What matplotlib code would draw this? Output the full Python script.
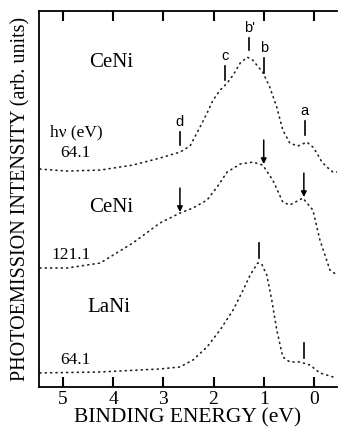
import matplotlib.pyplot as plt

plt.rcParams['font.family'] = ['Liberation Serif', 'DejaVu Serif']

# binding energy (eV) and intensity (arb. units) for each spectrum
e_ceni64 = [5.46, 4.92, 4.26, 3.61, 3.07, 2.67, 2.47, 2.27, 2.13, 2.01, 1.87, 1.73, 1.61,
            1.47, 1.33, 1.22, 1.02, 0.88, 0.74, 0.62, 0.48, 0.32, 0.14, 0.02, -0.06,
            -0.16, -0.26, -0.38, -0.46]
i_ceni64 = [218, 216, 217, 222, 229, 235, 241, 260, 274, 287, 297, 304, 312,
            324, 330, 327, 315, 300, 280, 257, 244, 241, 245, 240, 234,
            225, 220, 215, 215]

e_ceni121 = [5.46, 4.92, 4.26, 3.61, 3.07, 2.67, 2.41, 2.13, 1.93, 1.73, 1.47, 1.22, 1.02,
             0.82, 0.62, 0.48, 0.22, 0.02, -0.12, -0.32, -0.46]
i_ceni121 = [119, 119, 124, 144, 164, 174, 179, 187, 200, 215, 223, 225, 222,
             207, 185, 182, 189, 177, 147, 117, 112]

e_lani64 = [5.46, 4.26, 3.07, 2.67, 2.41, 2.13, 1.87, 1.61, 1.41, 1.27, 1.12, 1.04, 0.94,
            0.84, 0.74, 0.62, 0.48, 0.28, 0.08, -0.12, -0.38, -0.46]
i_lani64 = [14, 15, 18, 20, 27, 40, 57, 77, 97, 112, 124, 123, 112,
            87, 57, 30, 25, 25, 22, 14, 10, 10]

# feature markers on the 64.1 eV CeNi spectrum: (label, energy, bottom, top)
peak_labels = [("b'", 1.29, 337, 349), ('b', 1.00, 314, 329), ('c', 1.77, 307, 321),
               ('d', 2.67, 242, 255), ('a', 0.18, 252, 266)]
# arrows on the 121.1 eV CeNi spectrum: (energy, start, end)
arrows_121 = [(1.00, 247, 223), (2.67, 199, 175), (0.20, 214, 190)]
# bars on the LaNi spectrum
bars_lani = [(1.10, 129, 144), (0.20, 29, 44)]

fig = plt.figure(figsize=(3.39, 4.29), dpi=100)
ax = fig.add_axes([0.115, 0.098, 0.879, 0.876])

dot = (0, (0.6, 2.6))
for e, i in [(e_ceni64, i_ceni64), (e_ceni121, i_ceni121), (e_lani64, i_lani64)]:
    ax.plot(e, i, color='#222222', lw=1.2, linestyle=dot, dash_capstyle='round')

for lab, e, lo, hi in peak_labels:
    ax.plot([e, e], [lo, hi], color='black', lw=1.2)
    ax.text(e, hi + 3, lab, ha='center', va='bottom', fontsize=10.5,
            family=['Liberation Sans', 'DejaVu Sans'])

for e, y0, y1 in arrows_121:
    ax.annotate('', xy=(e, y1), xytext=(e, y0),
                arrowprops=dict(arrowstyle='-|>', color='black', lw=1.1,
                                mutation_scale=8, shrinkA=0, shrinkB=0))

for e, lo, hi in bars_lani:
    ax.plot([e, e], [lo, hi], color='black', lw=1.2)

ax.text(4.04, 325, 'CeNi', ha='center', va='center', fontsize=15)
ax.text(5.26, 255, 'h\u03bd (eV)', ha='left', va='center', fontsize=12.5)
ax.text(4.76, 234, '64.1', ha='center', va='center', fontsize=12.5)
ax.text(4.04, 180, 'CeNi', ha='center', va='center', fontsize=15)
ax.text(4.84, 132, '121.1', ha='center', va='center', fontsize=12.5)
ax.text(4.08, 79, 'LaNi', ha='center', va='center', fontsize=15)
ax.text(4.76, 27, '64.1', ha='center', va='center', fontsize=12.5)

ax.set_xlim(5.48, -0.46)
ax.set_ylim(0, 376)
ax.set_xticks([5, 4, 3, 2, 1, 0])
ax.set_yticks([])
ax.spines['right'].set_visible(False)
for s in ['left', 'top', 'bottom']:
    ax.spines[s].set_linewidth(1.3)
ax.tick_params(axis='x', direction='in', top=True, length=7, width=1.5,
               labelsize=14, pad=3)

ax.set_xlabel('BINDING ENERGY (eV)', fontsize=15.5, labelpad=0)
ax.set_ylabel('PHOTOEMISSION INTENSITY (arb. units)', fontsize=14.5, labelpad=6)

fig.savefig('out.png', dpi=100)
